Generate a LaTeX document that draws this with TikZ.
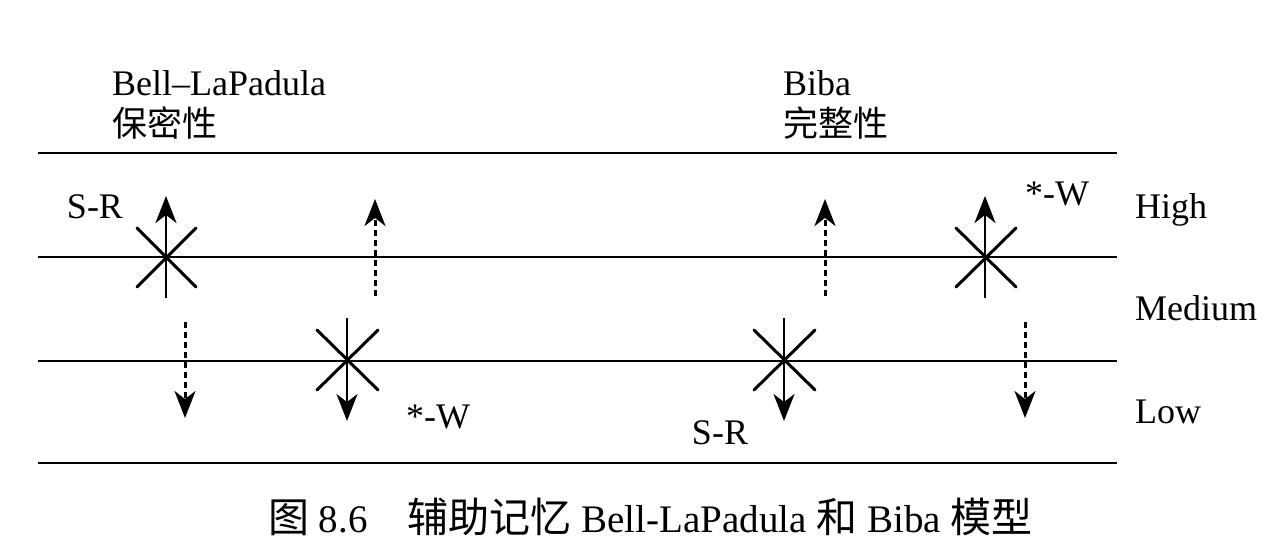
\documentclass[tikz,border=0pt]{standalone}
\usepackage{fontspec}
\setmainfont{Liberation Serif}
\newfontfamily\cjk{Noto Sans CJK SC}
\usetikzlibrary{arrows.meta}
\begin{document}
\begin{tikzpicture}[x=1pt,y=-1pt,
  level/.style={line width=2.2pt},
  cross/.style={line width=3pt,line cap=round},
  solidarrow/.style={line width=2.6pt,-{Stealth[length=27pt,width=21pt,inset=8pt]}},
  dotarrow/.style={line width=3pt,dash pattern=on 6pt off 4pt,-{Stealth[length=27pt,width=21pt,inset=8pt]}},
  txt/.style={inner sep=0pt,font=\fontsize{36}{40}\selectfont},
  ctxt/.style={inner sep=0pt,font=\fontsize{35}{40}\selectfont\cjk},
  captxt/.style={inner sep=0pt,font=\fontsize{39}{44}\selectfont}]
\useasboundingbox (0,0) rectangle (1280,542);
% level lines
\coordinate (a1) at (38,153); \coordinate (b1) at (1117,153);
\coordinate (a2) at (38,257); \coordinate (b2) at (1117,257);
\coordinate (a3) at (38,361); \coordinate (b3) at (1117,361);
\coordinate (a4) at (38,463); \coordinate (b4) at (1117,463);
\foreach \i in {1,...,4} \draw[level] (a\i) -- (b\i);
% titles
\node[txt,anchor=base west] (blp) at (112,95) {Bell–LaPadula};
\node[ctxt,anchor=base west] (bm) at (112,136) {保密性};
\node[txt,anchor=base west] (bb) at (783,95) {Biba};
\node[ctxt,anchor=base west] (wz) at (783,136) {完整性};
% level labels
\node[txt,anchor=base west] (hi) at (1135,218) {High};
\node[txt,anchor=base west] (me) at (1135,320) {Medium};
\node[txt,anchor=base west] (lo) at (1135,423) {Low};
% cross 1 (S-R, BLP)
\coordinate (c1s) at (166,298); \coordinate (c1e) at (166,196);
\coordinate (c1a) at (137,228); \coordinate (c1b) at (196,287);
\coordinate (c1c) at (196,228); \coordinate (c1d) at (137,287);
\draw[cross] (c1a) -- (c1b); \draw[cross] (c1c) -- (c1d);
\draw[solidarrow] (c1s) -- (c1e);
\node[txt] (sr1) at (95,207) {S-R};
% dotted up BLP
\coordinate (d1s) at (375,296); \coordinate (d1e) at (375,199);
\draw[dotarrow] (d1s) -- (d1e);
% dotted down BLP
\coordinate (d2s) at (185,322); \coordinate (d2e) at (185,418);
\draw[dotarrow] (d2s) -- (d2e);
% cross 2 (*-W, BLP)
\coordinate (c2s) at (347,318); \coordinate (c2e) at (347,421);
\coordinate (c2a) at (317,330); \coordinate (c2b) at (378,390);
\coordinate (c2c) at (378,330); \coordinate (c2d) at (317,390);
\draw[cross] (c2a) -- (c2b); \draw[cross] (c2c) -- (c2d);
\draw[solidarrow] (c2s) -- (c2e);
\node[txt] (w1) at (438,417) {*-W};
% dotted up Biba
\coordinate (d3s) at (825,296); \coordinate (d3e) at (825,199);
\draw[dotarrow] (d3s) -- (d3e);
% cross 3 (*-W, Biba)
\coordinate (c3s) at (985,298); \coordinate (c3e) at (985,196);
\coordinate (c3a) at (956,228); \coordinate (c3b) at (1016,287);
\coordinate (c3c) at (1016,228); \coordinate (c3d) at (956,287);
\draw[cross] (c3a) -- (c3b); \draw[cross] (c3c) -- (c3d);
\draw[solidarrow] (c3s) -- (c3e);
\node[txt] (w2) at (1057,194) {*-W};
% cross 4 (S-R, Biba)
\coordinate (c4s) at (784,318); \coordinate (c4e) at (784,421);
\coordinate (c4a) at (754,330); \coordinate (c4b) at (815,390);
\coordinate (c4c) at (815,330); \coordinate (c4d) at (754,390);
\draw[cross] (c4a) -- (c4b); \draw[cross] (c4c) -- (c4d);
\draw[solidarrow] (c4s) -- (c4e);
\node[txt] (sr2) at (720,433) {S-R};
% dotted down Biba
\coordinate (d4s) at (1025,322); \coordinate (d4e) at (1025,418);
\draw[dotarrow] (d4s) -- (d4e);
% caption
\node[captxt,anchor=base west] (cap) at (268,532) {{\cjk\fontsize{41}{44}\selectfont 图}\ 8.6\hspace{40pt}{\cjk\fontsize{41}{44}\selectfont 辅助记忆}\ Bell-LaPadula\ {\cjk\fontsize{41}{44}\selectfont 和}\ Biba\ {\cjk\fontsize{41}{44}\selectfont 模型}};
\end{tikzpicture}
\end{document}
